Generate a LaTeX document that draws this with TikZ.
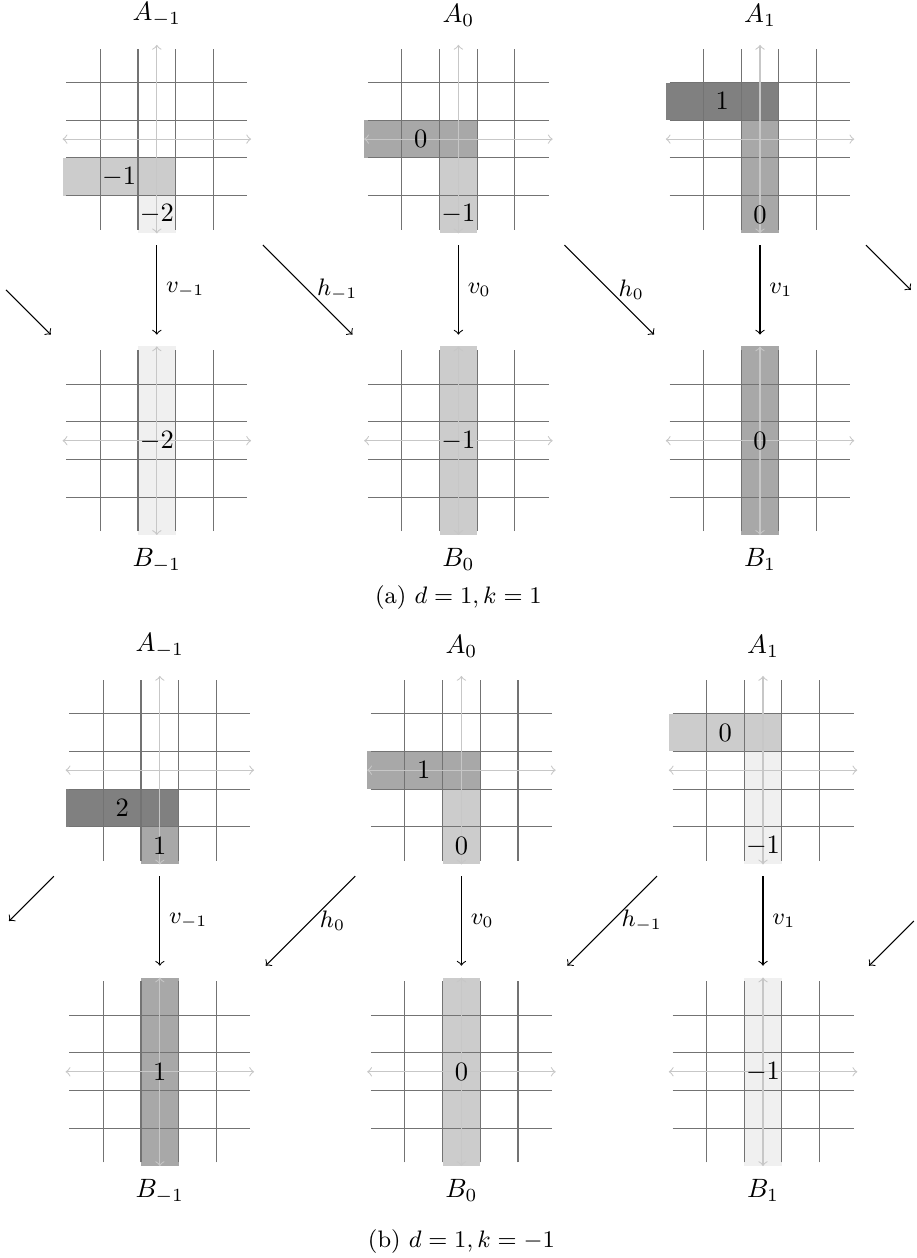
\documentclass[tikz,border=0pt]{standalone}
\usetikzlibrary{calc,positioning}

\tikzset{
  panel/.style={minimum size=2.8cm, inner sep=0pt},
  gridline/.style={black!55, line width=0.4pt},
  axisline/.style={black!22, line width=0.4pt, <->},
  shadeA/.style={fill=black!6},
  shadeB/.style={fill=black!20},
  shadeC/.style={fill=black!34},
  shadeD/.style={fill=black!50},
  maplabel/.style={right, font=\small},
}

\newcommand{\lattice}{%
  \foreach \g in {-1.5,-0.5,0.5,1.5} {
    \draw[gridline] (\g,-2.4) -- (\g,2.4);
    \draw[gridline] (-2.4,\g) -- (2.4,\g);
  }
  \draw[axisline] (-2.5,0) -- (2.5,0);
  \draw[axisline] (0,-2.5) -- (0,2.5);
}

\newcommand{\apanel}[6]{%
  \begin{scope}[shift={(#1)}]
    \fill[#3] (-2.5,#2-0.5) rectangle (0.5,#2+0.5);
    \fill[#5] (-0.5,#2-0.5) rectangle (0.5,-2.5);
    \lattice
    \node (#1r) at (-1,#2) {$#4$};
    \node (#1c) at (0,-2) {$#6$};
  \end{scope}}

\newcommand{\bpanel}[3]{%
  \begin{scope}[shift={(#1)}]
    \fill[#2] (-0.5,-2.5) rectangle (0.5,2.5);
    \lattice
    \node (#1v) at (0,0) {$#3$};
  \end{scope}}

\begin{document}
\begin{tikzpicture}[x=0.5cm, y=0.5cm]
\useasboundingbox (-4.16,-29.68) rectangle (20.16,3.69);

\node[panel] (aAm1) at (0,0) {};
\node[panel] (aA0) at (8,0) {};
\node[panel] (aA1) at (16,0) {};
\node[panel] (aBm1) at (0,-8) {};
\node[panel] (aB0) at (8,-8) {};
\node[panel] (aB1) at (16,-8) {};

\apanel{aAm1}{-1}{shadeB}{-1}{shadeA}{-2}
\apanel{aA0}{0}{shadeC}{0}{shadeB}{-1}
\apanel{aA1}{1}{shadeD}{1}{shadeC}{0}
\bpanel{aBm1}{shadeA}{-2}
\bpanel{aB0}{shadeB}{-1}
\bpanel{aB1}{shadeC}{0}

\node[above=-1pt of aAm1] (aAm1t) {$A_{-1}$};
\node[above=-1pt of aA0] (aA0t) {$A_0$};
\node[above=-1pt of aA1] (aA1t) {$A_1$};
\node[below=-3pt of aBm1] (aBm1t) {$B_{-1}$};
\node[below=-3pt of aB0] (aB0t) {$B_0$};
\node[below=-3pt of aB1] (aB1t) {$B_1$};

\coordinate (aL) at ($(aBm1)+(-4,4)$);
\coordinate (aR) at ($(aA1)+(4,-4)$);
\draw[->] (aAm1) -- node[maplabel] {$v_{-1}$} (aBm1);
\draw[->] (aA0) -- node[maplabel] {$v_0$} (aB0);
\draw[->] (aA1) -- node[maplabel] {$v_1$} (aB1);
\draw[->] (aL) -- (aBm1);
\draw[->] (aAm1) -- node[maplabel] {$h_{-1}$} (aB0);
\draw[->] (aA0) -- node[maplabel] {$h_0$} (aB1);
\draw[->] (aA1) -- (aR);

\node (capa) at (8,-12.17) {\small (a) $d=1, k=1$};

\node[panel] (bAm1) at (0.08,-16.74) {};
\node[panel] (bA0) at (8.08,-16.74) {};
\node[panel] (bA1) at (16.08,-16.74) {};
\node[panel] (bBm1) at (0.08,-24.74) {};
\node[panel] (bB0) at (8.08,-24.74) {};
\node[panel] (bB1) at (16.08,-24.74) {};

\apanel{bAm1}{-1}{shadeD}{2}{shadeC}{1}
\apanel{bA0}{0}{shadeC}{1}{shadeB}{0}
\apanel{bA1}{1}{shadeB}{0}{shadeA}{-1}
\bpanel{bBm1}{shadeC}{1}
\bpanel{bB0}{shadeB}{0}
\bpanel{bB1}{shadeA}{-1}

\node[above=-1pt of bAm1] (bAm1t) {$A_{-1}$};
\node[above=-1pt of bA0] (bA0t) {$A_0$};
\node[above=-1pt of bA1] (bA1t) {$A_1$};
\node[below=-3pt of bBm1] (bBm1t) {$B_{-1}$};
\node[below=-3pt of bB0] (bB0t) {$B_0$};
\node[below=-3pt of bB1] (bB1t) {$B_1$};

\coordinate (bL) at ($(bAm1)+(-4,-4)$);
\coordinate (bR) at ($(bB1)+(4,4)$);
\draw[->] (bAm1) -- node[maplabel] {$v_{-1}$} (bBm1);
\draw[->] (bA0) -- node[maplabel] {$v_0$} (bB0);
\draw[->] (bA1) -- node[maplabel] {$v_1$} (bB1);
\draw[->] (bAm1) -- (bL);
\draw[->] (bA0) -- node[maplabel] {$h_0$} (bBm1);
\draw[->] (bA1) -- node[maplabel] {$h_{-1}$} (bB0);
\draw[->] (bR) -- (bB1);

\node (capb) at (8.08,-29.25) {\small (b) $d=1, k=-1$};
\end{tikzpicture}
\end{document}
